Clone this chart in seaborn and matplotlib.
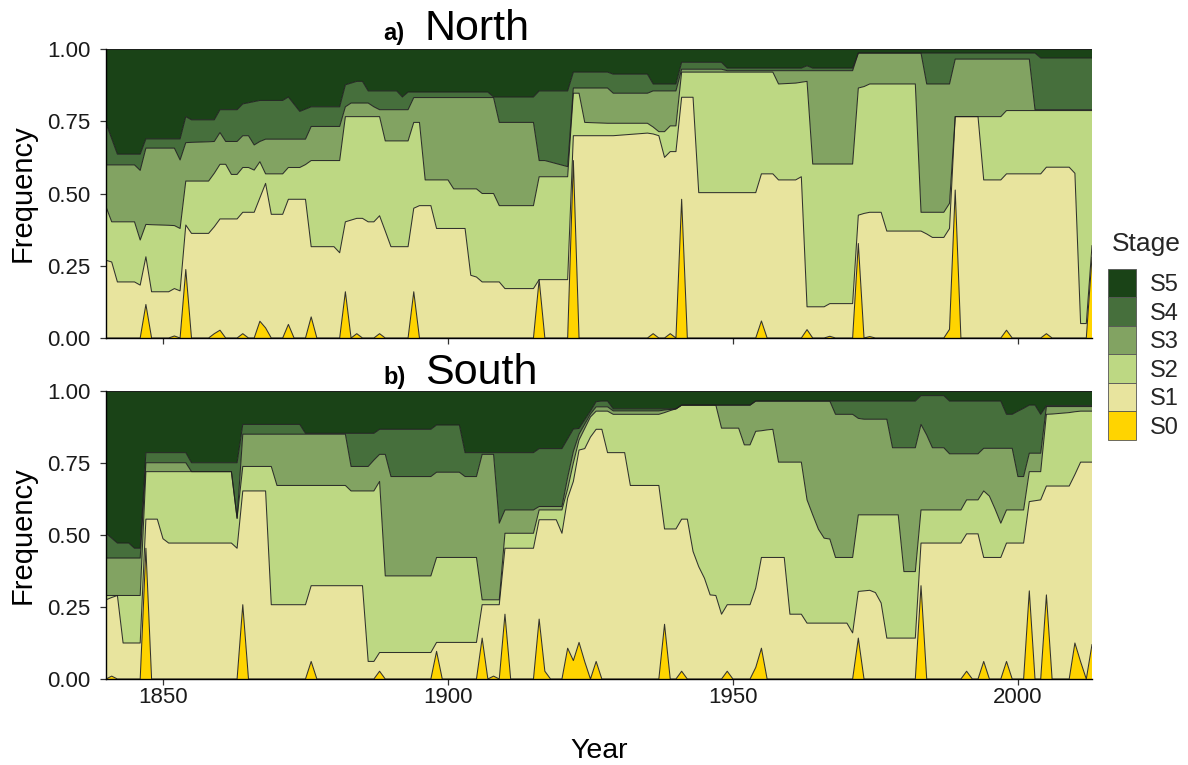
import numpy as np
import pandas as pd
import matplotlib
matplotlib.use("Agg")
import matplotlib.pyplot as plt
import seaborn as sns
from matplotlib.patches import Patch

# ---------------- data (cumulative upper edge of each stage) -------------
stages = ["S0", "S1", "S2", "S3", "S4", "S5"]
stage_colors = ["#FFD400", "#E8E49E", "#BDD883", "#82A362", "#466F3C", "#1A4317"]

north_years = [1840, 1841, 1842, 1845, 1846, 1847, 1848, 1851, 1852, 1853,
               1854, 1855, 1858, 1859, 1860, 1861, 1862, 1863, 1864, 1865,
               1866, 1867, 1868, 1869, 1871, 1872, 1873, 1874, 1875, 1876,
               1877, 1880, 1881, 1882, 1883, 1884, 1885, 1886, 1887, 1888,
               1889, 1890, 1891, 1892, 1893, 1894, 1895, 1896, 1897, 1898,
               1900, 1901, 1903, 1904, 1905, 1906, 1907, 1908, 1909, 1910,
               1915, 1916, 1917, 1921, 1922, 1923, 1924, 1928, 1929, 1935,
               1936, 1937, 1938, 1939, 1940, 1941, 1942, 1943, 1944, 1948,
               1949, 1954, 1955, 1956, 1957, 1958, 1961, 1962, 1963, 1964,
               1966, 1967, 1968, 1971, 1972, 1973, 1974, 1975, 1976, 1977,
               1982, 1983, 1984, 1985, 1987, 1988, 1989, 1990, 1993, 1994,
               1997, 1998, 1999, 2002, 2003, 2004, 2005, 2006, 2009, 2010,
               2011, 2012, 2013]

north_S0_top = [0, 0, 0, 0, 0, .116, 0, 0, .007, 0,
                .237, 0, 0, .015, .027, 0, 0, 0, .015, 0,
                0, .058, .035, 0, 0, .047, 0, 0, 0, .073,
                0, 0, 0, .160, 0, .015, 0, 0, 0, .015,
                0, 0, 0, 0, 0, .160, 0, 0, 0, 0,
                0, 0, 0, 0, 0, 0, 0, 0, 0, 0,
                0, .202, 0, 0, .614, 0, 0, 0, 0, 0,
                .015, 0, 0, .015, 0, .480, 0, 0, 0, 0,
                0, 0, .059, 0, 0, 0, 0, 0, .029, 0,
                0, .006, 0, 0, .327, 0, .005, 0, 0, 0,
                0, 0, 0, 0, 0, .030, .512, 0, 0, 0,
                0, .027, 0, 0, 0, 0, .015, 0, 0, 0,
                0, 0, .280]

north_S1_top = [.269, .263, .194, .194, .183, .281, .160, .160, .171, .163,
                .391, .362, .362, .385, .412, .412, .412, .412, .435, .435,
                .435, .485, .535, .428, .428, .480, .480, .480, .480, .316,
                .316, .316, .295, .402, .408, .414, .414, .402, .402, .423,
                .370, .316, .316, .316, .316, .449, .458, .458, .458, .379,
                .379, .379, .379, .217, .211, .194, .194, .194, .194, .171,
                .171, .202, .202, .202, .700, .700, .700, .700, .700, .709,
                .706, .700, .625, .645, .645, .833, .833, .833, .503, .503,
                .503, .503, .568, .568, .568, .547, .547, .558, .108, .108,
                .108, .119, .119, .119, .425, .431, .435, .435, .435, .370,
                .370, .370, .360, .348, .348, .379, .766, .766, .766, .547,
                .547, .568, .568, .568, .568, .568, .591, .591, .591, .570,
                .050, .050, .320]

north_S2_top = [.454, .402, .402, .402, .339, .393, .392, .390, .389, .379,
                .543, .543, .543, .570, .601, .601, .566, .566, .590, .590,
                .581, .610, .568, .568, .568, .590, .590, .590, .600, .614,
                .614, .614, .614, .766, .766, .766, .766, .766, .766, .766,
                .682, .682, .682, .682, .682, .746, .746, .547, .547, .547,
                .547, .516, .516, .516, .516, .500, .500, .500, .458, .458,
                .458, .558, .558, .558, .847, .847, .746, .743, .743, .743,
                .730, .714, .714, .734, .734, .920, .920, .920, .920, .920,
                .920, .920, .920, .920, .920, .879, .882, .885, .888, .602,
                .602, .602, .602, .602, .865, .870, .879, .879, .879, .879,
                .879, .435, .435, .435, .435, .466, .766, .766, .766, .766,
                .766, .787, .787, .787, .787, .787, .787, .787, .787, .787,
                .787, .787, .787]

north_S3_top = [.599, .599, .599, .599, .580, .657, .657, .657, .657, .616,
                .676, .677, .679, .680, .711, .680, .680, .680, .700, .700,
                .668, .680, .688, .688, .688, .688, .688, .688, .688, .732,
                .732, .732, .732, .800, .813, .813, .813, .813, .800, .790,
                .790, .790, .790, .790, .790, .832, .832, .832, .832, .832,
                .832, .832, .832, .832, .832, .832, .832, .832, .746, .746,
                .746, .614, .614, .593, .865, .865, .865, .865, .847, .847,
                .855, .855, .855, .855, .855, .930, .930, .930, .930, .930,
                .925, .925, .925, .925, .925, .925, .925, .925, .925, .925,
                .925, .925, .925, .925, .986, .986, .986, .986, .986, .986,
                .986, .986, .879, .879, .879, .879, .965, .965, .965, .965,
                .965, .965, .965, .965, .790, .790, .790, .790, .790, .790,
                .790, .790, .790]

north_S4_top = [.743, .690, .636, .636, .636, .689, .689, .689, .689, .689,
                .766, .755, .755, .755, .790, .790, .790, .790, .810, .814,
                .818, .822, .822, .822, .822, .834, .809, .784, .792, .800,
                .800, .800, .800, .876, .882, .888, .888, .855, .855, .855,
                .855, .855, .855, .834, .851, .851, .851, .851, .851, .851,
                .851, .851, .851, .851, .851, .851, .851, .834, .834, .834,
                .834, .855, .855, .855, .920, .920, .920, .920, .913, .913,
                .879, .879, .879, .879, .879, .954, .954, .954, .954, .954,
                .934, .934, .934, .934, .934, .934, .934, .934, .942, .934,
                .934, .934, .934, .934, .986, .986, .986, .986, .986, .986,
                .986, .986, .986, .986, .986, .986, .986, .986, .986, .986,
                .986, .986, .986, .986, .986, .969, .969, .969, .969, .969,
                .969, .969, .969]

south_years = [1840, 1841, 1842, 1843, 1844, 1845, 1846, 1847, 1848, 1849,
               1850, 1851, 1854, 1855, 1862, 1863, 1864, 1865, 1868, 1869,
               1870, 1874, 1875, 1876, 1877, 1882, 1883, 1885, 1886, 1887,
               1888, 1889, 1890, 1897, 1898, 1899, 1902, 1903, 1905, 1906,
               1907, 1908, 1909, 1910, 1911, 1915, 1916, 1917, 1918, 1919,
               1920, 1921, 1922, 1923, 1924, 1925, 1926, 1927, 1928, 1929,
               1931, 1932, 1937, 1938, 1939, 1940, 1941, 1942, 1943, 1944,
               1945, 1946, 1947, 1948, 1949, 1950, 1951, 1952, 1953, 1954,
               1955, 1956, 1957, 1958, 1959, 1960, 1962, 1963, 1964, 1965,
               1966, 1967, 1968, 1970, 1971, 1972, 1973, 1974, 1975, 1976,
               1977, 1978, 1979, 1980, 1982, 1983, 1984, 1985, 1987, 1988,
               1990, 1991, 1992, 1993, 1994, 1995, 1996, 1997, 1998, 1999,
               2000, 2001, 2002, 2003, 2004, 2005, 2006, 2009, 2010, 2011,
               2012, 2013]

south_S0_top = [0, .010, 0, 0, 0, 0, 0, .454, 0, 0,
                0, 0, 0, 0, 0, 0, .258, 0, 0, 0,
                0, 0, 0, .061, 0, 0, 0, 0, 0, 0,
                .027, 0, 0, 0, .096, 0, 0, 0, 0, .142,
                0, .010, 0, .225, 0, 0, .208, .027, 0, 0,
                0, .107, .064, .127, .060, 0, .061, 0, 0, 0,
                0, 0, 0, .190, 0, 0, .027, 0, 0, 0,
                0, 0, 0, 0, .027, 0, 0, 0, 0, .040,
                .107, 0, 0, 0, 0, 0, 0, 0, 0, 0,
                0, 0, 0, 0, 0, .142, 0, 0, 0, 0,
                0, 0, 0, 0, 0, .324, 0, 0, 0, 0,
                0, .027, 0, 0, .061, 0, 0, 0, .061, 0,
                0, 0, .306, 0, 0, .292, 0, 0, .125, .060,
                0, .120]

south_S1_top = [.275, .283, .290, .125, .125, .125, .125, .555, .555, .555,
                .487, .472, .472, .472, .472, .454, .653, .653, .653, .258,
                .258, .258, .258, .324, .324, .324, .324, .324, .061, .061,
                .092, .092, .092, .092, .127, .127, .127, .127, .127, .258,
                .258, .258, .258, .454, .454, .454, .553, .553, .553, .553,
                .506, .628, .686, .795, .800, .840, .867, .867, .786, .786,
                .786, .672, .672, .521, .521, .521, .555, .555, .443, .390,
                .350, .292, .290, .225, .258, .258, .258, .258, .258, .316,
                .422, .422, .422, .422, .422, .225, .225, .194, .194, .194,
                .194, .194, .194, .194, .160, .304, .306, .308, .300, .264,
                .142, .142, .142, .142, .142, .472, .472, .472, .472, .472,
                .472, .504, .504, .504, .422, .422, .422, .422, .472, .472,
                .472, .472, .616, .619, .622, .670, .670, .670, .710, .753,
                .753, .753]

south_S2_top = [.290, .290, .290, .290, .290, .290, .290, .720, .720, .720,
                .720, .720, .720, .720, .720, .558, .738, .738, .738, .738,
                .672, .672, .672, .672, .672, .672, .653, .653, .653, .653,
                .686, .358, .358, .358, .422, .422, .422, .422, .422, .275,
                .275, .275, .275, .506, .506, .506, .587, .587, .587, .587,
                .587, .660, .750, .830, .870, .910, .930, .930, .930, .919,
                .919, .919, .919, .925, .932, .938, .951, .951, .951, .951,
                .951, .951, .951, .871, .871, .871, .871, .813, .813, .860,
                .862, .865, .867, .753, .753, .753, .753, .622, .570, .520,
                .489, .486, .422, .422, .422, .570, .570, .570, .570, .570,
                .570, .570, .570, .373, .373, .587, .587, .587, .587, .587,
                .587, .622, .622, .622, .653, .635, .590, .541, .587, .587,
                .587, .587, .720, .720, .720, .919, .920, .925, .928, .930,
                .930, .930]

south_S3_top = [.420, .420, .420, .420, .420, .420, .420, .751, .751, .751,
                .751, .751, .751, .720, .720, .558, .850, .850, .850, .850,
                .850, .850, .850, .850, .850, .850, .738, .738, .738, .760,
                .780, .780, .703, .703, .718, .718, .718, .703, .703, .780,
                .780, .780, .541, .587, .587, .587, .599, .599, .599, .599,
                .599, .700, .790, .850, .885, .920, .945, .945, .945, .931,
                .931, .931, .931, .934, .936, .938, .951, .951, .951, .951,
                .951, .951, .951, .951, .951, .951, .951, .951, .951, .965,
                .965, .965, .965, .965, .965, .965, .965, .965, .965, .965,
                .965, .965, .919, .919, .919, .905, .902, .902, .902, .902,
                .902, .803, .803, .803, .803, .884, .847, .803, .803, .782,
                .782, .782, .782, .782, .801, .801, .801, .801, .801, .801,
                .703, .703, .784, .784, .784, .946, .946, .946, .946, .946,
                .946, .946]

south_S4_top = [.506, .489, .472, .472, .472, .454, .454, .786, .786, .786,
                .786, .786, .786, .751, .751, .751, .884, .884, .884, .884,
                .884, .884, .853, .853, .853, .853, .853, .853, .853, .853,
                .867, .867, .867, .867, .882, .882, .882, .786, .786, .786,
                .786, .786, .786, .786, .786, .786, .800, .800, .800, .800,
                .800, .834, .868, .870, .900, .930, .963, .965, .965, .938,
                .938, .938, .938, .938, .938, .938, .951, .951, .951, .951,
                .951, .951, .951, .951, .951, .951, .951, .951, .951, .965,
                .965, .965, .965, .965, .965, .965, .965, .965, .965, .965,
                .965, .965, .965, .965, .965, .965, .965, .965, .965, .965,
                .965, .965, .965, .965, .965, .984, .984, .984, .984, .965,
                .965, .965, .965, .965, .965, .965, .965, .965, .919, .919,
                .930, .940, .951, .951, .919, .949, .949, .949, .949, .949,
                .949, .949]

panel_titles = [("a)", "North"), ("b)", "South")]
x_ticks = [1850, 1900, 1950, 2000]
y_ticks = [0.0, 0.25, 0.5, 0.75, 1.0]
y_tick_labels = ["0.00", "0.25", "0.50", "0.75", "1.00"]

# ---------------- style ----------------
sns.set_theme(style="ticks")
plt.rcParams["font.family"] = ["Liberation Sans", "DejaVu Sans"]

W, H = 1188, 765
fig = plt.figure(figsize=(W / 100, H / 100), dpi=100)
left, right = 106 / W, 1092 / W
ax_n = fig.add_axes([left, 1 - 338 / H, right - left, (338 - 49) / H])
ax_s = fig.add_axes([left, 1 - 679 / H, right - left, (679 - 391) / H])


def draw_panel(ax, years, tops):
    years = np.asarray(years, dtype=float)
    cum = [np.asarray(t, dtype=float) for t in tops] + [np.ones_like(years)]
    freqs = np.diff(np.vstack([np.zeros_like(years)] + cum), axis=0)  # per-stage frequency
    stacked = np.cumsum(freqs, axis=0)
    lower = np.zeros_like(years)
    rows = []
    for i, st in enumerate(stages):
        upper = stacked[i]
        ax.fill_between(years, lower, upper, facecolor=stage_colors[i],
                        edgecolor="none", linewidth=0, zorder=1 + i * 0.01)
        rows.append(pd.DataFrame({"Year": years, "Top": upper, "Stage": st}))
        lower = upper
    df = pd.concat(rows, ignore_index=True)
    sns.lineplot(data=df, x="Year", y="Top", units="Stage", estimator=None,
                 color="#1e1e1e", linewidth=0.75, alpha=0.9, legend=False,
                 ax=ax, zorder=3)
    ax.set_xlim(1840, 2013)
    ax.set_ylim(0, 1)
    ax.set_xticks(x_ticks)
    ax.set_yticks(y_ticks)
    ax.set_yticklabels(y_tick_labels)
    for sp in ["top", "right"]:
        ax.spines[sp].set_visible(False)
    for sp in ["left", "bottom"]:
        ax.spines[sp].set_color("black")
        ax.spines[sp].set_linewidth(1.0)
        ax.spines[sp].set_zorder(5)
    ax.tick_params(axis="both", direction="out", length=4, width=0.9,
                   color="#333333", labelsize=16, labelcolor="#1a1a1a")
    ax.tick_params(axis="x", pad=1.5)
    ax.tick_params(axis="y", pad=7)
    ax.set_ylabel("Frequency", fontsize=21, labelpad=8, color="black")


draw_panel(ax_n, north_years,
           [north_S0_top, north_S1_top, north_S2_top, north_S3_top, north_S4_top])
draw_panel(ax_s, south_years,
           [south_S0_top, south_S1_top, south_S2_top, south_S3_top, south_S4_top])

ax_n.set_xlabel("")
ax_n.tick_params(axis="x", labelbottom=False)
ax_s.set_xlabel("Year", fontsize=20.5, labelpad=22, color="black")

# panel titles
for (tag, name), base_px in zip(panel_titles, [40, 384]):
    fig.text(383 / W, 1 - base_px / H, tag, fontsize=17, fontweight="bold",
             va="baseline", ha="left", color="black")
    fig.text(425 / W, 1 - base_px / H, name, fontsize=31,
             va="baseline", ha="left", color="black")

# legend
handles = [Patch(facecolor=stage_colors[i], edgecolor="#555555", linewidth=0.6)
           for i in range(len(stages) - 1, -1, -1)]
labels = stages[::-1]
fig.text(1112 / W, 1 - 251 / H, "Stage", fontsize=19, va="baseline", ha="left")
fig.legend(handles, labels, loc="upper left",
           bbox_to_anchor=(1108 / W, 1 - 269 / H), frameon=False,
           borderpad=0, borderaxespad=0, handlelength=1.19, handleheight=1.48,
           labelspacing=0, handletextpad=0.59, fontsize=17)

fig.savefig("out.png", dpi=100)
